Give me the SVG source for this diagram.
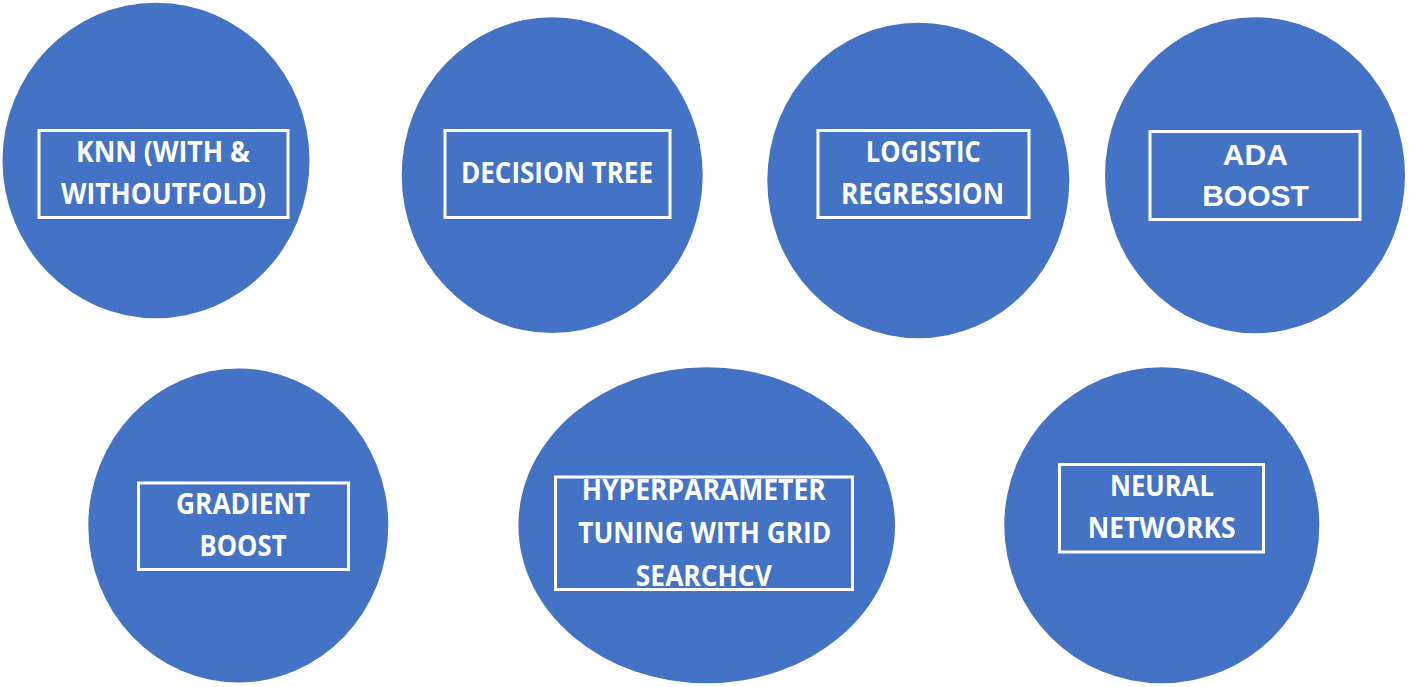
<svg xmlns="http://www.w3.org/2000/svg" width="1409" height="687" viewBox="0 0 1409 687">
<style>
.c{fill:#4472C4}
.b{fill:none;stroke:#FFFFFF;stroke-width:3}
.t{fill:#FFFFFF;font-family:"Open Sans","Liberation Sans",sans-serif;font-weight:700;font-size:28px;text-anchor:middle}
.a{fill:#FFFFFF;font-family:"Liberation Sans",Arial,sans-serif;font-weight:700;font-size:30px;text-anchor:middle}
</style>
<rect width="1409" height="687" fill="#FFFFFF"/>
<g id="connectors"></g>
<g id="knn">
<ellipse class="c" cx="156" cy="160.5" rx="153.5" ry="157.7"/>
<rect class="b" x="39" y="130.5" width="249" height="87"/>
<text class="t" x="163" y="162" textLength="174" lengthAdjust="spacingAndGlyphs">KNN (WITH &amp;</text>
<text class="t" x="163.5" y="204" textLength="205" lengthAdjust="spacingAndGlyphs">WITHOUTFOLD)</text>
</g>
<g id="decision-tree">
<ellipse class="c" cx="552.2" cy="175.2" rx="150.5" ry="157.9"/>
<rect class="b" x="445" y="130.5" width="225" height="87"/>
<text class="t" x="557" y="183.3" textLength="192" lengthAdjust="spacingAndGlyphs">DECISION TREE</text>
</g>
<g id="logistic-regression">
<ellipse class="c" cx="918.3" cy="180.5" rx="151" ry="157.8"/>
<rect class="b" x="818" y="130.5" width="211" height="87"/>
<text class="t" x="923.3" y="161.7" textLength="115" lengthAdjust="spacingAndGlyphs">LOGISTIC</text>
<text class="t" x="922.5" y="204" textLength="163" lengthAdjust="spacingAndGlyphs">REGRESSION</text>
</g>
<g id="ada-boost">
<ellipse class="c" cx="1255" cy="175.3" rx="150" ry="158"/>
<rect class="b" x="1150" y="131.5" width="210" height="88"/>
<text class="a" x="1255.3" y="164.5">ADA</text>
<text class="a" x="1255.5" y="205.7">BOOST</text>
</g>
<g id="gradient-boost">
<ellipse class="c" cx="238.3" cy="525.5" rx="150" ry="157"/>
<rect class="b" x="138.5" y="483" width="210" height="86.5"/>
<text class="t" x="243" y="513.5" textLength="134" lengthAdjust="spacingAndGlyphs">GRADIENT</text>
<text class="t" x="243" y="556" textLength="87" lengthAdjust="spacingAndGlyphs">BOOST</text>
</g>
<g id="hyperparameter-tuning">
<ellipse class="c" cx="706.7" cy="525.3" rx="188.3" ry="158"/>
<rect class="b" x="555.5" y="477" width="297" height="112.5"/>
<text class="t" x="703.8" y="500" textLength="244" lengthAdjust="spacingAndGlyphs">HYPERPARAMETER</text>
<text class="t" x="704.7" y="543.3" textLength="253" lengthAdjust="spacingAndGlyphs">TUNING WITH GRID</text>
<text class="t" x="703.8" y="586" textLength="136" lengthAdjust="spacingAndGlyphs">SEARCHCV</text>
</g>
<g id="neural-networks">
<ellipse class="c" cx="1161.8" cy="525.3" rx="157.5" ry="158"/>
<rect class="b" x="1059.5" y="464.5" width="204" height="87.5"/>
<text class="t" x="1162" y="496" textLength="104" lengthAdjust="spacingAndGlyphs">NEURAL</text>
<text class="t" x="1161.7" y="538.3" textLength="148" lengthAdjust="spacingAndGlyphs">NETWORKS</text>
</g>
</svg>
